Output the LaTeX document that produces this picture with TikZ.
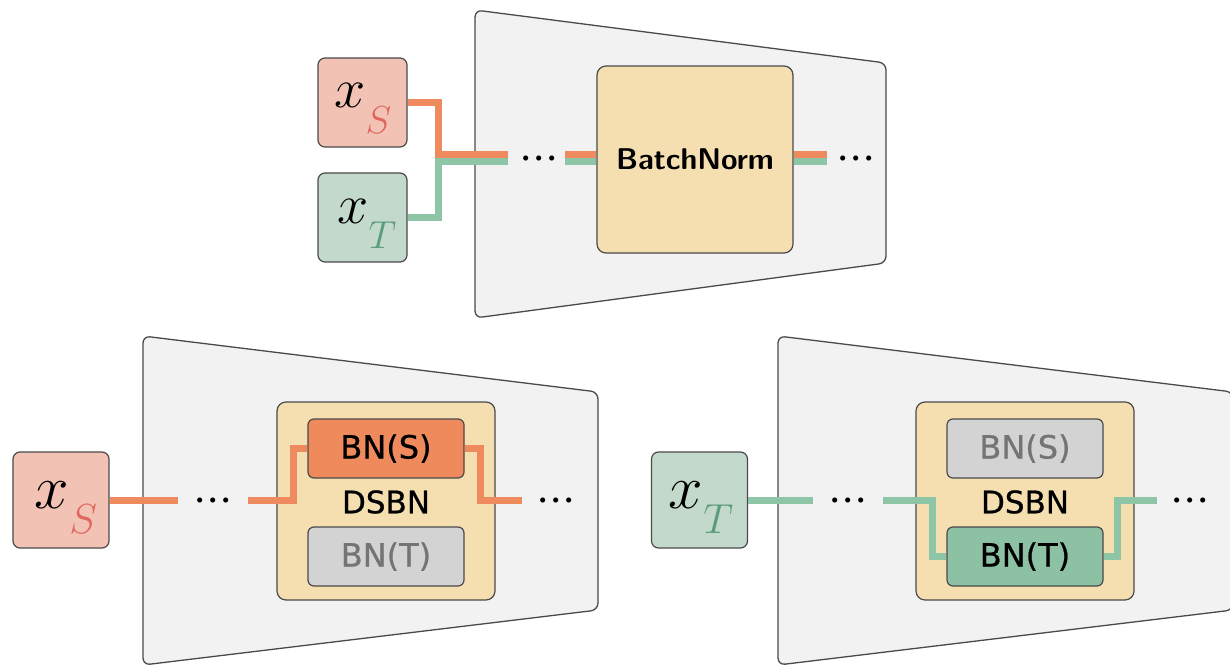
\RequirePackage{fix-cm}
\documentclass[tikz,border=0pt]{standalone}
\usepackage{fontspec}
\newfontfamily\bnfont[FakeBold=0.7]{DejaVu Sans}
\usetikzlibrary{calc}

\definecolor{trapfill}{HTML}{F2F2F2}
\definecolor{edge}{HTML}{4A4A4A}
\definecolor{srcfill}{HTML}{F2C3B4}
\definecolor{tgtfill}{HTML}{C3D9CB}
\definecolor{wheat}{HTML}{F5DFB0}
\definecolor{bnorange}{HTML}{EE8A5C}
\definecolor{bngreen}{HTML}{8CC2A3}
\definecolor{bngray}{HTML}{D3D3D3}
\definecolor{graytext}{HTML}{747474}
\definecolor{srcline}{HTML}{EF8A5E}
\definecolor{tgtline}{HTML}{8EC5A7}
\definecolor{subS}{HTML}{E0675F}
\definecolor{subT}{HTML}{5B9C7C}

% x with a lowered, coloured domain subscript
\newcommand\domvar[4]{{\fontsize{#1}{#1}\selectfont$x$}\raisebox{-25pt}{\fontsize{#2}{#2}\selectfont\color{#4}$#3$}}
% three tight centred dots
\newcommand\tightdots{${\cdot}{\cdot}{\cdot}$}

\begin{document}
\begin{tikzpicture}[x=1pt,y=-1pt,
  trap/.style={draw=edge,line width=1.3pt,fill=trapfill,rounded corners=7pt},
  inbox/.style={draw=edge,line width=1.2pt,rounded corners=7pt,minimum width=#1,minimum height=#1,inner sep=0pt},
  layer/.style={draw=edge,line width=1.2pt,fill=wheat,rounded corners=9pt,inner sep=0pt},
  bnbox/.style={draw=edge,line width=1.2pt,rounded corners=6pt,minimum width=156pt,minimum height=59pt,inner sep=0pt,font=\bnfont\fontsize{32}{32}\selectfont},
  oline/.style={draw=srcline,line width=7pt},
  gline/.style={draw=tgtline,line width=7pt},
  dots/.style={anchor=base,inner sep=0pt,font=\fontsize{48}{48}\selectfont},
  varlabel/.style={anchor=base,inner sep=0pt},
]
\useasboundingbox (0,0) rectangle (1230,666);

% ---------- top: shared BatchNorm ----------
\draw[trap] (475,10) -- (886,63) -- (886,263) -- (475,318) -- cycle;
\node[inbox=89pt,fill=srcfill] (xsA) at (362.5,102.5) {};
\node[inbox=89pt,fill=tgtfill] (xtA) at (362.5,217.5) {};
\node[varlabel] (lxsA) at (363,108) {\domvar{56}{39}{S}{subS}};
\node[varlabel] (lxtA) at (367,223) {\domvar{56}{39}{T}{subT}};
\node[layer,minimum width=196pt,minimum height=187pt,
      font=\sffamily\bfseries\fontsize{30}{30}\selectfont] (bn) at (695,159.5) {BatchNorm};

\coordinate (ja) at (438,158);
\coordinate (ea) at (508,158);
\coordinate (sa) at (565,158);
\coordinate (ra) at (827,158);
\node[dots] (da1) at (539,170) {\tightdots};
\node[dots] (da2) at (856,170) {\tightdots};

\draw[oline] (xsA.east) -| ([yshift=3.5pt]ja) -- ([yshift=3.5pt]ea);
\draw[gline] (xtA.east) -| ([yshift=-3.5pt]ja) -- ([yshift=-3.5pt]ea);
\draw[oline] ([yshift=3.5pt]sa) -- ([yshift=3.5pt]sa -| bn.west);
\draw[gline] ([yshift=-3.5pt]sa) -- ([yshift=-3.5pt]sa -| bn.west);
\draw[oline] ([yshift=3.5pt]ra -| bn.east) -- ([yshift=3.5pt]ra);
\draw[gline] ([yshift=-3.5pt]ra -| bn.east) -- ([yshift=-3.5pt]ra);

% ---------- bottom left: DSBN, source path ----------
\draw[trap] (143,336) -- (598,392) -- (598,610) -- (143,665) -- cycle;
\node[inbox=96pt,fill=srcfill] (xsB) at (61,500) {};
\node[varlabel] (lxsB) at (66,508) {\domvar{62}{42}{S}{subS}};
\node[layer,minimum width=218pt,minimum height=198pt] (dsL) at (386,501) {};
\node[bnbox,fill=bnorange] (bnsL) at (386,448.5) {BN(S)};
\node[bnbox,fill=bngray,text=graytext] (bntL) at (386,556.5) {BN(T)};
\node[font=\bnfont\fontsize{31}{31}\selectfont,inner sep=0pt] (tdsL) at (386,502) {DSBN};

\coordinate (e1) at (178,500);
\coordinate (s1) at (248,500);
\coordinate (k1) at (293,500);
\coordinate (k2) at (480,500);
\coordinate (r1) at (522,500);
\node[dots] (d1) at (213,512) {\tightdots};
\node[dots] (d2) at (556,512) {\tightdots};
\draw[oline] (xsB.east) -- (e1);
\draw[oline] (s1) -- (k1) |- (bnsL.west);
\draw[oline] (bnsL.east) -| (k2) -- (r1);

% ---------- bottom right: DSBN, target path ----------
\draw[trap] (778,336) -- (1233,392) -- (1233,610) -- (778,665) -- cycle;
\node[inbox=96pt,fill=tgtfill] (xtB) at (699.5,500) {};
\node[varlabel] (lxtB) at (701,508) {\domvar{62}{42}{T}{subT}};
\node[layer,minimum width=218pt,minimum height=198pt] (dsR) at (1025,501) {};
\node[bnbox,fill=bngray,text=graytext] (bnsR) at (1025,448.5) {BN(S)};
\node[bnbox,fill=bngreen] (bntR) at (1025,556.5) {BN(T)};
\node[font=\bnfont\fontsize{31}{31}\selectfont,inner sep=0pt] (tdsR) at (1025,502) {DSBN};

\coordinate (e2) at (813,500);
\coordinate (s2) at (883,500);
\coordinate (k3) at (932,500);
\coordinate (k4) at (1117,500);
\coordinate (r2) at (1157,500);
\node[dots] (d3) at (848,512) {\tightdots};
\node[dots] (d4) at (1190,512) {\tightdots};
\draw[gline] (xtB.east) -- (e2);
\draw[gline] (s2) -- (k3) |- (bntR.west);
\draw[gline] (bntR.east) -| (k4) -- (r2);
\end{tikzpicture}
\end{document}
